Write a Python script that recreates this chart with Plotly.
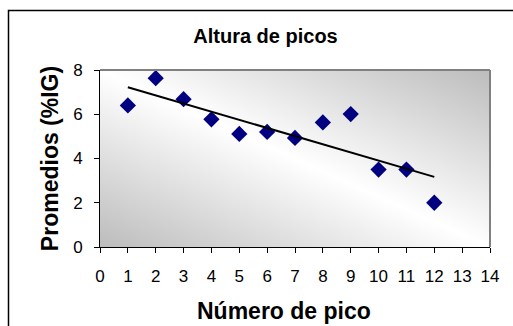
import numpy as np
import plotly.graph_objects as go

# Peak numbers and average heights (%IG)
picos = [1, 2, 3, 4, 5, 6, 7, 8, 9, 10, 11, 12]
promedios = [6.4, 7.63, 6.68, 5.77, 5.11, 5.2, 4.93, 5.63, 6.01, 3.5, 3.5, 2.0]
x_ticks = list(range(0, 15))
y_ticks = [0, 2, 4, 6, 8]
x_max, y_max = 14, 8

FONT = "Liberation Sans, Arial, sans-serif"

# Least-squares linear trend over the peaks
pend, inter = np.polyfit(picos, promedios, 1)
x_tend = [picos[0], picos[-1]]
y_tend = [pend * x + inter for x in x_tend]

# Diagonal gray gradient for the plotting area (white along the main diagonal)
n = 80
u = np.linspace(0, 1, n)
U, V = np.meshgrid(u, u)
grad = np.abs(U + V - 1.0)

fig = go.Figure()

fig.add_trace(go.Heatmap(
    x=u * x_max, y=u * y_max, z=grad,
    colorscale=[[0, "rgb(255,255,255)"], [1, "rgb(188,188,188)"]],
    zmin=0, zmax=1, zsmooth="best", showscale=False, hoverinfo="skip",
))

fig.add_trace(go.Scatter(
    x=picos, y=promedios, mode="markers",
    marker=dict(symbol="diamond", size=12.5, color="#000080",
                line=dict(width=0)),
    showlegend=False,
))

fig.add_trace(go.Scatter(
    x=x_tend, y=y_tend, mode="lines",
    line=dict(color="black", width=2),
    showlegend=False,
))

fig.update_layout(
    width=513, height=326,
    margin=dict(l=100, r=23, t=70, b=79),
    paper_bgcolor="white", plot_bgcolor="white",
    font=dict(family=FONT, color="black"),
    title=dict(text="<b>Altura de picos</b>", x=265.5 / 513, xref="container",
               xanchor="center", y=1 - 36 / 326, yanchor="middle",
               font=dict(size=20, family=FONT, color="black")),
    xaxis=dict(range=[0, x_max], tickvals=x_ticks, ticks="outside", ticklen=5,
               tickcolor="black", showline=True, linecolor="black", linewidth=1,
               showgrid=False, zeroline=False, tickfont=dict(size=17),
               ticklabelstandoff=9, layer="above traces"),
    yaxis=dict(range=[0, y_max], tickvals=y_ticks, ticks="outside", ticklen=5,
               tickcolor="black", showline=True, linecolor="black", linewidth=1,
               showgrid=False, zeroline=False, tickfont=dict(size=17),
               ticklabelstandoff=8, layer="above traces",
               title=dict(text="<b>Promedios (%IG)</b>",
                          font=dict(size=23), standoff=8)),
    annotations=[dict(text="<b>Número de pico</b>", xref="paper", yref="paper",
                      x=(284 - 100) / 390, y=(247 - 310.5) / 177,
                      xanchor="center", yanchor="middle", showarrow=False,
                      font=dict(size=23, family=FONT, color="black"))],
)

# Gray frame on the top and right of the plotting area
fig.add_shape(type="line", xref="paper", yref="paper", x0=0, x1=1, y0=1, y1=1,
              line=dict(color="rgb(128,128,128)", width=2))
fig.add_shape(type="line", xref="paper", yref="paper", x0=1, x1=1, y0=0, y1=1,
              line=dict(color="rgb(128,128,128)", width=2))

# Outer chart frame
pw, ph = 390.0, 177.0
fig.add_shape(type="rect", xref="paper", yref="paper",
              x0=(8.5 - 100) / pw, x1=(540 - 100) / pw,
              y0=(247 - 360) / ph, y1=(247 - 10.5) / ph,
              line=dict(color="black", width=1.5), layer="above")

fig.write_html("out.html")
